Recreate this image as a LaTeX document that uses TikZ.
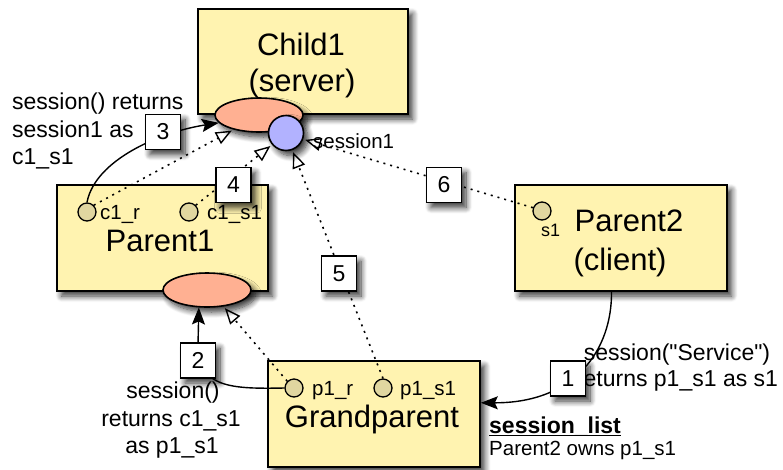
\documentclass[tikz,border=0pt]{standalone}
\usepackage{fontspec}
\setmainfont{Liberation Sans}
% same face without TeX ligatures, so that " stays a straight quote
\newfontfamily\plainsans{Liberation Sans}
\usetikzlibrary{arrows.meta,shapes.geometric,shadows.blur}

\definecolor{paneyellow}{RGB}{255,243,176}
\definecolor{salmonfill}{RGB}{255,176,146}
\definecolor{lavender}{RGB}{178,178,255}
\definecolor{portfill}{RGB}{224,214,160}

\begin{document}
\begin{tikzpicture}[x=1pt,y=-1pt,
  bigtxt/.style={font=\fontsize{31}{37}\selectfont,inner sep=0pt},
  midtxt/.style={font=\fontsize{23}{27.5}\selectfont,inner sep=0pt},
  smalltxt/.style={font=\fontsize{20.5}{24}\selectfont,inner sep=0pt},
  softshadow/.style={blur shadow={shadow xshift=4.5pt,shadow yshift=-5pt,shadow blur radius=6pt,shadow opacity=80,shadow blur steps=10}},
  pane/.style={draw,line width=1.6pt,fill=paneyellow,softshadow,inner sep=0pt},
  tag/.style={draw,line width=1.6pt,fill=white,softshadow,minimum width=35pt,minimum height=35pt,inner sep=0pt,font=\fontsize{23}{27}\selectfont},
  blob/.style={ellipse,draw,line width=1.6pt,fill=salmonfill,softshadow,minimum width=88pt,minimum height=34pt,inner sep=0pt},
  port/.style={circle,draw,line width=1.3pt,fill=portfill,minimum size=18pt,inner sep=0pt},
  call/.style={line width=1.4pt,-{Stealth[length=17pt,width=13pt,inset=3pt]}},
  link/.style={line width=1.6pt,dash pattern=on 2pt off 5pt,shorten >=2pt,-{Triangle[open,length=16pt,width=13pt,line width=1.4pt]}}
]
\useasboundingbox (0,0) rectangle (783,469);

% processes
\node[pane,minimum width=210pt,minimum height=105pt] (child) at (303,61.5) {};
\node[blob] (cell) at (259,115) {};
\node[circle,draw,line width=1.6pt,fill=lavender,softshadow,minimum size=35pt,inner sep=0pt] (bc) at (286,133) {};
\node[pane,minimum width=211pt,minimum height=106pt] (p1) at (162.5,238) {};
\node[blob] (pell) at (207,290) {};
\node[pane,minimum width=212pt,minimum height=106pt] (p2) at (621,238) {};
\node[pane,minimum width=212pt,minimum height=106pt] (gp) at (374,414) {};

% process names
\node[bigtxt,anchor=base] (childname) at (301,55) {Child1};
\node[bigtxt,anchor=base] (childrole) at (302,91) {(server)};
\node[bigtxt,anchor=base] (p1name) at (160,251) {Parent1};
\node[bigtxt,anchor=base] (p2name) at (629,231) {Parent2};
\node[bigtxt,anchor=base] (p2role) at (620,270) {(client)};
\node[bigtxt,anchor=base] (gpname) at (372,427) {Grandparent};

% session ports
\node[port] (c1r) at (87,212) {};
\node[port] (c1s1) at (189,212) {};
\node[port] (p1r) at (294,388) {};
\node[port] (p1s1) at (383,388) {};
\node[port] (s1p) at (542,211) {};
\node[smalltxt,anchor=base west] (c1rl) at (100,219) {c1\_r};
\node[smalltxt,anchor=base west] (c1s1l) at (207,219) {c1\_s1};
\node[smalltxt,anchor=base west] (p1rl) at (312,395) {p1\_r};
\node[smalltxt,anchor=base west] (p1s1l) at (400,395) {p1\_s1};
\node[font=\fontsize{18}{20}\selectfont,inner sep=0pt,anchor=base west] (s1l) at (541,236) {s1};
\node[smalltxt,anchor=base west] (sessl) at (313,148) {session1};

% annotations
\node[midtxt,anchor=base west] (n3a) at (12,109) {session() returns};
\node[midtxt,anchor=base west] (n3b) at (12,137) {session1 as};
\node[midtxt,anchor=base west] (n3c) at (12,164) {c1\_s1};
\node[midtxt,anchor=base] (n2a) at (173,398) {session()};
\node[midtxt,anchor=base] (n2b) at (171,426) {returns c1\_s1};
\node[midtxt,anchor=base] (n2c) at (172,453) {as p1\_s1};
\node[midtxt,anchor=base] (n1a) at (677,360) {\plainsans session("Service")};
\node[midtxt,anchor=base] (n1b) at (677,386) {returns p1\_s1 as s1};
\node[midtxt,anchor=base west] (lsthead) at (489,433) {\textbf{session\_list}};
\draw[line width=1.3pt] ([yshift=-2.5pt]lsthead.base west) -- ([yshift=-2.5pt]lsthead.base east);
\node[smalltxt,anchor=base west] (lstrow) at (489,455) {Parent2 owns p1\_s1};

% session() calls
\draw[call] (c1r.north) .. controls (95,160) and (160,132) .. (cell.191);
\draw[call] (p1r.west) .. controls (232,389) and (198,388) .. (198,345) -- (pell.245);
\draw[call] (p2.260) .. controls (612,350) and (575,403) .. (gp.6);

% session ownership links
\draw[link] (c1r.north east) -- (cell.210);
\draw[link] (c1s1.north east) -- (bc.220);
\draw[link] (p1s1.north) -- (bc.290);
\draw[link] (s1p.160) -- (bc.340);
\draw[link] (p1r.north west) -- (pell.315);

% step numbers
\node[tag] (t1) at (568,378.5) {1};
\node[tag] (t2) at (198,360.5) {2};
\node[tag] (t3) at (163,132) {3};
\node[tag] (t4) at (233.5,185) {4};
\node[tag] (t5) at (339,273.5) {5};
\node[tag] (t6) at (444,185) {6};
\end{tikzpicture}
\end{document}
